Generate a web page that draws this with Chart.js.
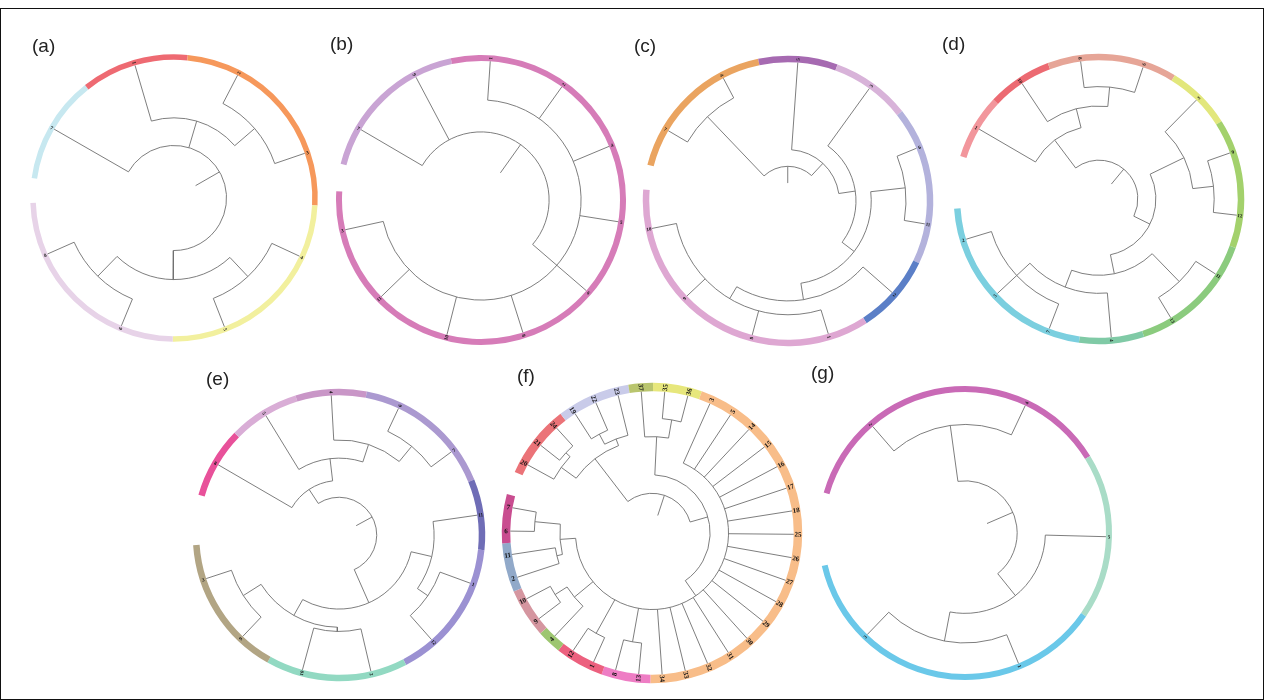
<!DOCTYPE html>
<html><head><meta charset="utf-8">
<script src="https://cdn.jsdelivr.net/npm/chart.js@4.4.1/dist/chart.umd.min.js"></script>
<style>
html,body{margin:0;padding:0;background:#fff;}
#page{position:relative;width:1265px;height:700px;overflow:hidden;background:#fff;}
.frame{position:absolute;left:0;top:8px;width:1264px;height:692px;box-sizing:border-box;border:1px solid #111;}
.panel{position:absolute;width:310px;height:310px;}
.panel canvas{position:absolute;left:0;top:0;}
.tag{position:absolute;font-family:'Liberation Sans',Arial,sans-serif;font-size:19px;line-height:19px;color:#222;}
</style></head><body><div id="page"><div class="frame"></div></div>
<script>
// ---------- DATA: leaf labels (ring order, clockwise from the gap) ----------
const aLabels = ['7','1','2','3','4','5','6','8'];
const bLabels = ['7','9','1','2','4','5','6','8','10','11','3'];
const cLabels = ['7','4','5','3','6','11','2','1','8','9','10'];
const dLabels = ['1','10','8','6','3','9','12','11','13','4','7','5','2'];
const eLabels = ['8','5','4','6','7','11','1','12','2','10','9','3'];
const fLabels = ['20','21','24','19','22','23','37','35','36','3','5','14','15','16','17','18','25','26','27','28','29','30','31','32','33','34','13','8','1','12','4','9','10','2','11','6','7'];
const gLabels = ['2','4','5','1','3'];

// ---------- DATA: cluster sizes (number of leaves per coloured ring segment) ----------
const aGroups = [1,1,2,2,2];
const bGroups = [2,9];
const cGroups = [2,1,1,2,1,4];
const dGroups = [1,1,2,1,2,2,1,3];
const eGroups = [1,1,1,2,1,2,2,2];
const fGroups = [3,3,1,2,17,2,2,1,2,2,2];
const gGroups = [2,1,2];

// ---------- DATA: merges [height(0=centre..100=leaf), child ids...]; leaves 0..n-1, node k = n+k ----------
const aNodes = [[77,2,3],[58,1,8],[78,4,5],[79,6,7],[59,10,11],[38,0,9,12]];
const bNodes = [[72,2,3,4,5,6,7,8,9,10],[49,0,1,11]];
const cNodes = [[84,0,1],[85,4,5],[82,7,8,9,10],[72,6,13],[60,12,14],[49,3,15],[37,2,16],[25,11,17]];
const dNodes = [[81,2,3],[67,1,13],[53,0,14],[83,5,6],[68,4,16],[83,7,8],[81,10,11,12],[68,9,19],[55,18,20],[41,17,21],[28,15,22]];
const eNodes = [[82,3,4],[68,2,12],[55,1,13],[39,0,14],[77,6,7],[68,5,16],[69,8,9],[81,10,11],[66,18,19],[53,17,20],[27,15,21]];
const fNodes = [[83,1,2],[79,0,37],[79,3,4],[71,39,5],[66,38,40],[81,7,8],[68,6,42],[78,26,27],[81,28,29],[81,31,32],[71,30,46],[83,35,36],[69,33,34],[65,49,48],
  [54,9,10,11,12,13,14,15,16,17,18,19,20,21,22,23,24,25,44,45,47,50],[41,43,51],[28,41,52]];
const gNodes = [[77,0,1],[78,3,4],[57,2,6],[37,5,7]];

// ---------- DATA: inner end of the root edge ----------
const aRootStub = 18, bRootStub = 24, cRootStub = 13, dRootStub = 14, eRootStub = 14, fRootStub = 13, gRootStub = 17;

// ---------- STYLE: ring colours ----------
const aColors = ['#c7e8f0','#ee6a72','#f6985b','#f2f09e','#e7d3e8'];
const bColors = ['#c9a4d4','#d67cb8'];
const cColors = ['#eaa460','#a66ab1','#d8b3d9','#b3b2dc','#5b7fc7','#dea7d2'];
const dColors = ['#f2969c','#ec6a72','#e6a597','#e2e77c','#a3d16c','#8bcb7e','#80caa6','#7bcfdf'];
const eColors = ['#e8519a','#d9add6','#c996c7','#ab99d0','#6f6db6','#9b91d2','#92d9c2','#b2a584'];
const fColors = ['#eb7378','#c9cbe9','#b9c56e','#e7e77c','#f8bd89','#ee7dc4','#ec607e','#9dc670','#d596a0','#91a9c9','#c94d90'];
const gColors = ['#c96ab6','#a9dcc7','#6ac8e9'];

// ---------- LAYOUT ----------
const S = 310;
const panels = [
  {tag:'(a)', tx:32, ty:36, labels:aLabels, groups:aGroups, colors:aColors, nodes:aNodes, stub:aRootStub, cx:174, cy:197.5, ring:141, thick:5.5, gapCenter:177, gap:10, font:'bold 5px "Liberation Serif"'},
  {tag:'(b)', tx:330, ty:34, labels:bLabels, groups:bGroups, colors:bColors, nodes:bNodes, stub:bRootStub, cx:480.5, cy:200.3, ring:142, thick:6, gapCenter:171, gap:11, font:'bold 5px "Liberation Serif"'},
  {tag:'(c)', tx:634, ty:36, labels:cLabels, groups:cGroups, colors:cColors, nodes:cNodes, stub:cRootStub, cx:788, cy:200.5, ring:142, thick:6.5, gapCenter:170.5, gap:10, font:'bold 5px "Liberation Serif"'},
  {tag:'(d)', tx:942, ty:34, labels:dLabels, groups:dGroups, colors:dColors, nodes:dNodes, stub:dRootStub, cx:1099, cy:198.8, ring:142, thick:6.5, gapCenter:173.3, gap:21, font:'bold 5px "Liberation Serif"'},
  {tag:'(e)', tx:206, ty:369, labels:eLabels, groups:eGroups, colors:eColors, nodes:eNodes, stub:eRootStub, cx:339, cy:535, ring:143, thick:6.5, gapCenter:174, gap:20, font:'bold 5px "Liberation Serif"'},
  {tag:'(f)', tx:517, ty:366, labels:fLabels, groups:fGroups, colors:fColors, nodes:fNodes, stub:fRootStub, cx:652, cy:533, ring:146, thick:8.5, gapCenter:160.5, gap:9, font:'bold 7px "Liberation Serif"'},
  {tag:'(g)', tx:811, ty:363, labels:gLabels, groups:gGroups, colors:gColors, nodes:gNodes, stub:gRootStub, cx:965.3, cy:532.5, ring:144, thick:6, gapCenter:178.5, gap:29, font:'bold 5px "Liberation Serif"'}
];

const D2R = Math.PI / 180;
const LINE = '#6f6f6f';
function polar(h, a) { return { x: h * Math.cos(a * D2R), y: h * Math.sin(a * D2R) }; }

function buildPanel(p) {
  const page = document.getElementById('page');
  const n = p.labels.length;
  const slot = (360 - p.gap) / n;
  const start = p.gapCenter - p.gap / 2;
  const ang = [], hgt = [];
  p.labels.forEach((_, i) => { ang[i] = start - (i + 0.5) * slot; hgt[i] = 100; });
  const segs = [], arcs = [];
  p.nodes.forEach((row, k) => {
    const id = n + k, h = row[0], kids = row.slice(1);
    const as = kids.map(c => ang[c]);
    const hi = Math.max(...as), lo = Math.min(...as);
    ang[id] = (hi + lo) / 2; hgt[id] = h;
    kids.forEach(c => segs.push([polar(h, ang[c]), polar(hgt[c], ang[c])]));
    arcs.push({ h: h, hi: hi, lo: lo });
  });
  const root = n + p.nodes.length - 1;
  segs.push([polar(p.stub, ang[root]), polar(hgt[root], ang[root])]);

  const wrap = document.createElement('div');
  wrap.className = 'panel';
  wrap.style.left = (p.cx - S / 2) + 'px';
  wrap.style.top = (p.cy - S / 2) + 'px';
  const c1 = document.createElement('canvas'); c1.width = S; c1.height = S;
  const c2 = document.createElement('canvas'); c2.width = S; c2.height = S;
  wrap.appendChild(c1); wrap.appendChild(c2);
  page.appendChild(wrap);

  const tag = document.createElement('div');
  tag.className = 'tag'; tag.textContent = p.tag;
  tag.style.left = p.tx + 'px'; tag.style.top = p.ty + 'px';
  page.appendChild(tag);

  // ring as doughnut (gap = transparent slice)
  const rOut = p.ring + p.thick / 2, rIn = p.ring - p.thick / 2;
  const gapUnits = n * p.gap / (360 - p.gap);
  new Chart(c1, {
    type: 'doughnut',
    data: { datasets: [{ data: p.groups.concat([gapUnits]), backgroundColor: p.colors.concat(['rgba(0,0,0,0)']), borderWidth: 0, hoverOffset: 0 }] },
    options: {
      responsive: false, animation: false, events: [],
      radius: rOut, cutout: (rIn / rOut * 100) + '%', rotation: 90 - start,
      layout: { padding: 0 },
      plugins: { legend: { display: false }, tooltip: { enabled: false } }
    }
  });

  // dendrogram
  const M = (S / 2) * 100 / rIn;
  const labelH = p.ring / rIn * 100;
  const dendro = {
    id: 'dendro',
    afterDatasetsDraw(chart) {
      const ctx = chart.ctx, xs = chart.scales.x, ys = chart.scales.y;
      const cx = xs.getPixelForValue(0), cy = ys.getPixelForValue(0);
      ctx.save();
      ctx.strokeStyle = LINE; ctx.lineWidth = 0.9;
      arcs.forEach(a => {
        const r = xs.getPixelForValue(a.h) - cx;
        ctx.beginPath();
        ctx.arc(cx, cy, r, -a.hi * D2R, -a.lo * D2R, false);
        ctx.stroke();
      });
      ctx.fillStyle = '#141414';
      ctx.font = p.font;
      ctx.textAlign = 'center'; ctx.textBaseline = 'middle';
      p.labels.forEach((lab, i) => {
        const pt = polar(labelH, ang[i]);
        const px = xs.getPixelForValue(pt.x), py = ys.getPixelForValue(pt.y);
        let rot = -ang[i] * D2R;
        if (Math.cos(ang[i] * D2R) < 0) rot += Math.PI;
        ctx.save(); ctx.translate(px, py); ctx.rotate(rot);
        ctx.fillText(lab, 0, 0.5);
        ctx.restore();
      });
      ctx.restore();
    }
  };
  new Chart(c2, {
    type: 'scatter',
    data: { datasets: segs.map(s => ({ data: s, showLine: true, borderColor: LINE, borderWidth: 0.9, pointRadius: 0, pointHoverRadius: 0, fill: false })) },
    options: {
      responsive: false, animation: false, events: [],
      layout: { padding: 0 },
      scales: {
        x: { type: 'linear', min: -M, max: M, display: false },
        y: { type: 'linear', min: -M, max: M, display: false }
      },
      plugins: { legend: { display: false }, tooltip: { enabled: false } }
    },
    plugins: [dendro]
  });
}
panels.forEach(buildPanel);
</script>
</body></html>
